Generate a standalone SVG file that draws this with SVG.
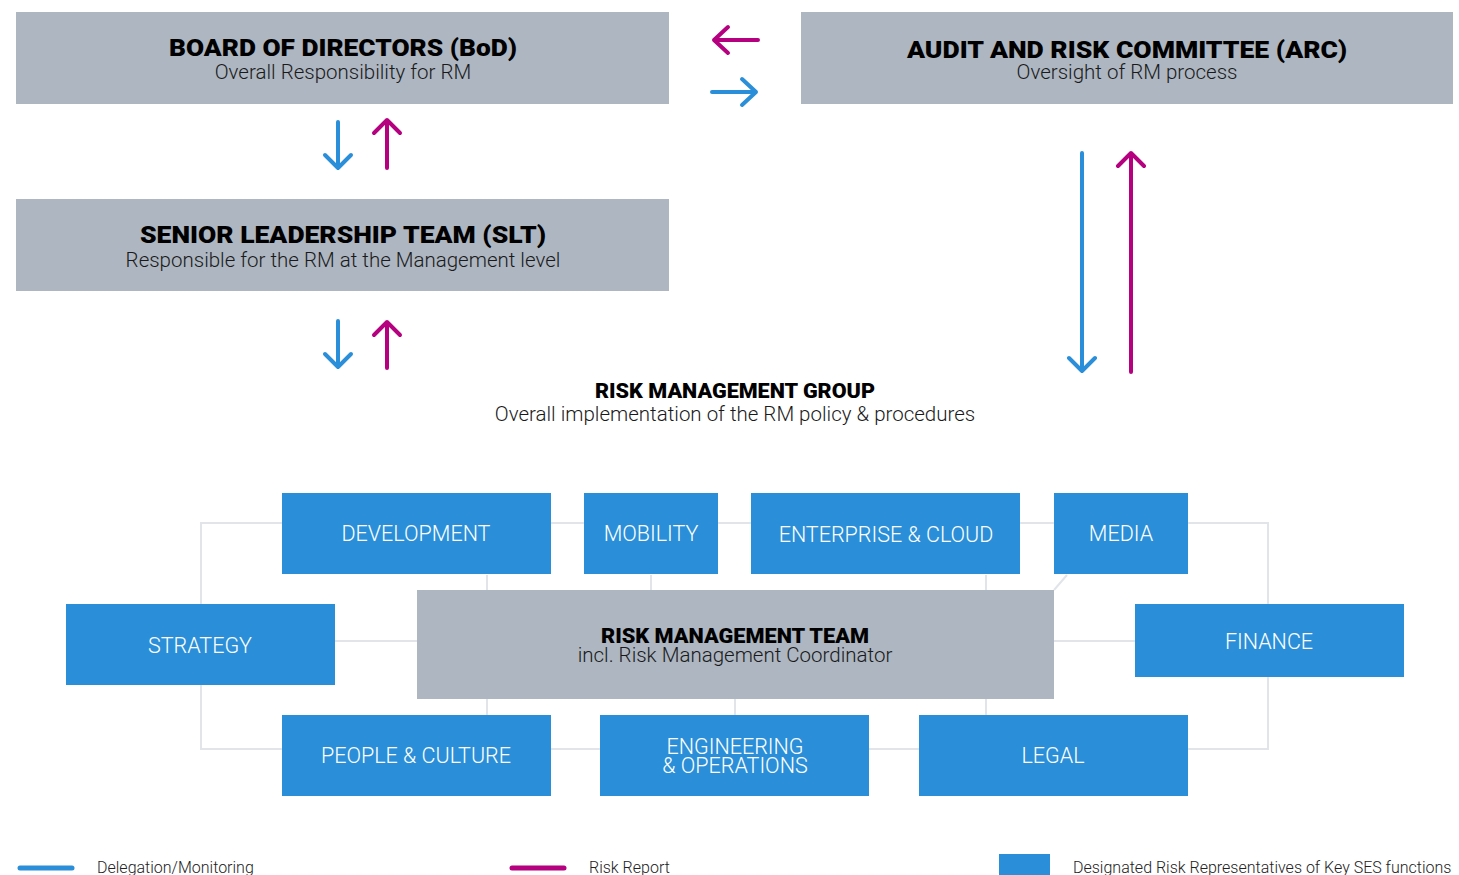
<svg xmlns="http://www.w3.org/2000/svg" width="1459" height="875" viewBox="0 0 1459 875">
<defs>
<style>
.gray{fill:#adb6c1}
.blue{fill:#2a8fd8}
.t{font-family:Roboto,"Liberation Sans",sans-serif;font-weight:900;font-size:23px;fill:#000;text-anchor:middle}
.s{font-family:Roboto,"Liberation Sans",sans-serif;font-weight:300;font-size:20.5px;fill:#1a1a1a;text-anchor:middle}
.b{font-family:Roboto,"Liberation Sans",sans-serif;font-weight:300;font-size:21.5px;fill:#fff;text-anchor:middle}
.lg{font-family:Roboto,"Liberation Sans",sans-serif;font-weight:300;font-size:16px;fill:#222}
.grid{stroke:#e1e4e9;stroke-width:2;fill:none}
.ab{stroke:#2a8fd8;stroke-width:4;fill:none;stroke-linecap:round;stroke-linejoin:round}
.am{stroke:#b5007f;stroke-width:4;fill:none;stroke-linecap:round;stroke-linejoin:round}
</style>
</defs>
<rect width="1459" height="875" fill="#fff"/>
<g id="connectors">
<path class="grid" d="M201 523H1268V749H201Z"/>
<path class="grid" d="M487 575V590M651 575V590M986 575V590M1067 575L1054 590M487 699V715M735 699V715M986 699V715M335 641H417M1054 641H1135"/>
<path class="am" d="M758 40H714M728 27L714 40L728 53"/>
<path class="ab" d="M712 92H756M742 79L756 92L742 105"/>
<path class="ab" d="M338 122V168M325 155L338 168L351 155"/>
<path class="am" d="M387 168V120M374 133L387 120L400 133"/>
<path class="ab" d="M338 321V367M325 354L338 367L351 354"/>
<path class="am" d="M387 368V322M374 335L387 322L400 335"/>
<path class="ab" d="M1082 153V371M1069 358L1082 371L1095 358"/>
<path class="am" d="M1131 372V153M1118 166L1131 153L1144 166"/>
</g>
<g id="bod"><rect class="gray" x="16" y="12" width="653" height="92"/><text x="343" y="56"><tspan class="t" x="343" textLength="348" lengthAdjust="spacingAndGlyphs">BOARD OF DIRECTORS (BoD)</tspan><tspan class="s" x="343" dy="23">Overall Responsibility for RM</tspan></text></g>
<g id="arc"><rect class="gray" x="801" y="12" width="652" height="92"/><text x="1127" y="58"><tspan class="t" x="1127" textLength="440" lengthAdjust="spacingAndGlyphs">AUDIT AND RISK COMMITTEE (ARC)</tspan><tspan class="s" x="1127" dy="21">Oversight of RM process</tspan></text></g>
<g id="slt"><rect class="gray" x="16" y="199" width="653" height="92"/><text x="343" y="243"><tspan class="t" x="343" textLength="406" lengthAdjust="spacingAndGlyphs">SENIOR LEADERSHIP TEAM (SLT)</tspan><tspan class="s" x="343" dy="24">Responsible for the RM at the Management level</tspan></text></g>
<g id="rmg"><text x="735" y="398"><tspan class="t" x="735" style="font-size:20px" textLength="280" lengthAdjust="spacingAndGlyphs">RISK MANAGEMENT GROUP</tspan><tspan class="s" x="735" dy="23">Overall implementation of the RM policy &amp; procedures</tspan></text></g>
<g id="development"><rect class="blue" x="282" y="493" width="269" height="81"/><text class="b" x="416" y="541">DEVELOPMENT</text></g>
<g id="mobility"><rect class="blue" x="584" y="493" width="134" height="81"/><text class="b" x="651" y="541">MOBILITY</text></g>
<g id="enterprise"><rect class="blue" x="751" y="493" width="269" height="81"/><text class="b" x="886" y="542">ENTERPRISE &amp; CLOUD</text></g>
<g id="media"><rect class="blue" x="1054" y="493" width="134" height="81"/><text class="b" x="1121" y="541">MEDIA</text></g>
<g id="strategy"><rect class="blue" x="66" y="604" width="269" height="81"/><text class="b" x="200" y="653">STRATEGY</text></g>
<g id="rmt"><rect class="gray" x="417" y="590" width="637" height="109"/><text x="735" y="643"><tspan class="t" x="735" style="font-size:20px" textLength="268" lengthAdjust="spacingAndGlyphs">RISK MANAGEMENT TEAM</tspan><tspan class="s" x="735" dy="19">incl. Risk Management Coordinator</tspan></text></g>
<g id="finance"><rect class="blue" x="1135" y="604" width="269" height="73"/><text class="b" x="1269" y="649">FINANCE</text></g>
<g id="people"><rect class="blue" x="282" y="715" width="269" height="81"/><text class="b" x="416" y="763">PEOPLE &amp; CULTURE</text></g>
<g id="engineering"><rect class="blue" x="600" y="715" width="269" height="81"/><text class="b" x="735" y="754"><tspan x="735">ENGINEERING</tspan><tspan x="735" dy="19">&amp; OPERATIONS</tspan></text></g>
<g id="legal"><rect class="blue" x="919" y="715" width="269" height="81"/><text class="b" x="1053" y="763">LEGAL</text></g>
<g id="legend">
<path class="ab" d="M20 868H72" style="stroke-width:5"/>
<text class="lg" x="97" y="873">Delegation/Monitoring</text>
<path class="am" d="M512 868H564" style="stroke-width:5"/>
<text class="lg" x="589" y="873">Risk Report</text>
<rect class="blue" x="999" y="854" width="51" height="21"/>
<text class="lg" x="1073" y="873">Designated Risk Representatives of Key SES functions</text>
</g>
</svg>
